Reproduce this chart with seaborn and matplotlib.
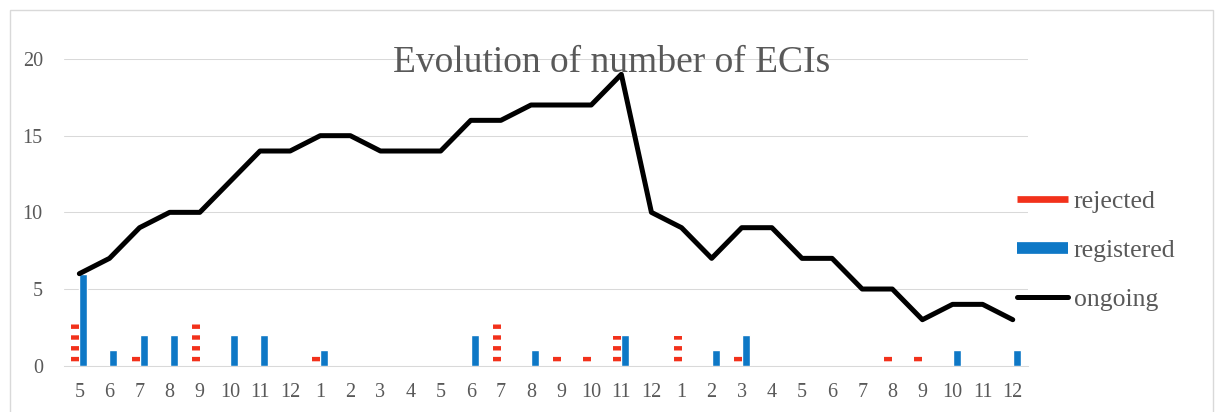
import numpy as np
import pandas as pd
import matplotlib
matplotlib.use("Agg")
import matplotlib.pyplot as plt
from matplotlib.lines import Line2D
from matplotlib.patches import Rectangle
import seaborn as sns

# Monthly series: months run from May of the first year to December two years later
months = [5, 6, 7, 8, 9, 10, 11, 12,
          1, 2, 3, 4, 5, 6, 7, 8, 9, 10, 11, 12,
          1, 2, 3, 4, 5, 6, 7, 8, 9, 10, 11, 12]
rejected = [3, 0, 1, 0, 3, 0, 0, 0,
            1, 0, 0, 0, 0, 0, 3, 0, 1, 1, 2, 0,
            2, 0, 1, 0, 0, 0, 0, 1, 1, 0, 0, 0]
registered = [6, 1, 2, 2, 0, 2, 2, 0,
              1, 0, 0, 0, 0, 2, 0, 1, 0, 0, 2, 0,
              0, 1, 2, 0, 0, 0, 0, 0, 0, 1, 0, 1]
ongoing = [6, 7, 9, 10, 10, 12, 14, 14,
           15, 15, 14, 14, 14, 16, 16, 17, 17, 17, 19, 10,
           9, 7, 9, 9, 7, 7, 5, 5, 3, 4, 4, 3]
series = ["rejected", "registered"]
y_ticks = [0, 5, 10, 15, 20]
title = "Evolution of number of ECIs"

RED = "#F2311B"
BLUE = "#0E78C6"
TEXT = "#595959"
GRID = "#D9D9D9"

pos = np.arange(len(months))
bars = pd.DataFrame({
    "pos": np.concatenate([pos, pos]),
    "status": np.repeat(series, len(months)),
    "count": np.concatenate([rejected, registered]),
})

sns.set_theme(style="white")
plt.rcParams["font.family"] = ["Liberation Serif", "DejaVu Serif"]
plt.rcParams["lines.scale_dashes"] = False

DPI = 100
W, H = 1219, 412
fig = plt.figure(figsize=(W / DPI, H / DPI), dpi=DPI)
ax_left, ax_right = 64.3 / W, 1027.8 / W
ax_bottom, ax_top = 1 - 365.7 / H, 1 - 59.0 / H
ax = fig.add_axes([ax_left, ax_bottom, ax_right - ax_left, ax_top - ax_bottom])

sns.barplot(data=bars, x="pos", y="count", hue="status", hue_order=series,
            palette=[RED, BLUE], width=0.53, dodge=True, gap=0,
            ax=ax, legend=False, saturation=1, errorbar=None, zorder=3)

ax.set_xlim(-0.5, len(months) - 0.5)
ax.set_ylim(0, 20)

# Rejected counts are shown as a stack of short red dashes instead of a solid fill
px_to_pt = 72 / DPI
px_per_cat = (ax_right - ax_left) * W / len(months)
on, off, first_gap = 4.4 * px_to_pt, 6.4 * px_to_pt, 4.7 * px_to_pt
for patch in ax.containers[0]:
    h = patch.get_height()
    patch.set_visible(False)
    if h <= 0:
        continue
    xc = patch.get_x() + patch.get_width() / 2
    w_pt = patch.get_width() * px_per_cat * px_to_pt
    # stop just short of the bar top so no sliver of the next dash appears
    ax.plot([xc, xc], [0, h - 0.08], color=RED, lw=w_pt, solid_capstyle="butt",
            dash_capstyle="butt", linestyle=(on + off - first_gap, (on, off)),
            zorder=3)

sns.lineplot(x=pos, y=ongoing, color="black", lw=3.6, ax=ax, zorder=4,
             solid_joinstyle="round", solid_capstyle="round")

ax.set_yticks(y_ticks)
ax.set_xticks(pos)
ax.set_xticklabels([str(m) for m in months])
ax.set_xlabel("")
ax.set_ylabel("")
ax.tick_params(axis="y", length=0, pad=15.5, labelsize=14.5, labelcolor=TEXT)
ax.tick_params(axis="x", length=0, pad=12.5, labelsize=14.5, labelcolor=TEXT)
ax.yaxis.grid(True, color=GRID, lw=0.75, zorder=0)
ax.set_axisbelow(True)
for side in ["left", "right", "top"]:
    ax.spines[side].set_visible(False)
ax.spines["bottom"].set_color(GRID)
ax.spines["bottom"].set_linewidth(0.75)
ax.set_facecolor("none")

handles = [
    Line2D([], [], color=RED, lw=6.7 * px_to_pt, solid_capstyle="butt"),
    Line2D([], [], color=BLUE, lw=11.7 * px_to_pt, solid_capstyle="butt"),
    Line2D([], [], color="black", lw=5 * px_to_pt, solid_capstyle="round"),
]
fig.legend(handles, ["rejected", "registered", "ongoing"], loc="center left",
           bbox_to_anchor=(1017 / W, 1 - 250.5 / H), frameon=False, fontsize=18.5,
           labelcolor=TEXT, handlelength=1.97, handletextpad=0.23,
           labelspacing=1.0, borderpad=0, borderaxespad=0)

fig.text(611.5 / W, 1 - 71.7 / H, title, ha="center", va="baseline",
         fontsize=27, color=TEXT, zorder=5)

fig.patches.append(Rectangle((9.5 / W, -0.1), (1213 - 9.5) / W, 1.1 - 10 / H,
                             transform=fig.transFigure, fill=False,
                             edgecolor=GRID, lw=1.0, zorder=0))

fig.savefig("out.png", dpi=DPI)
